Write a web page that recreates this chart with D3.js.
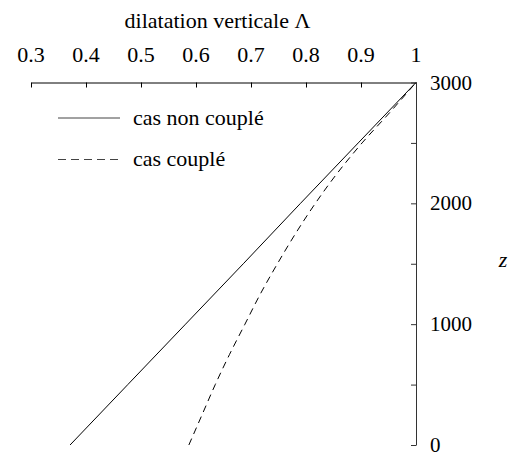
<html><head><meta charset="utf-8"><script src="https://cdn.jsdelivr.net/npm/d3@7"></script></head>
<body style="margin:0">
<svg id="s" width="508" height="456"></svg>
<script>
// Profondeur z (m) et dilatation verticale Λ pour les deux cas
const depthUncoupled = [0, 500, 1000, 1500, 2000, 2500, 3000];
const lambdaUncoupled = [0.371, 0.476, 0.581, 0.686, 0.790, 0.895, 1.0];

const depthCoupled = [0, 250, 500, 750, 1000, 1250, 1500, 1750, 2000, 2250, 2500, 2750, 3000];
const lambdaCoupled = [0.587, 0.611, 0.635, 0.661, 0.689, 0.717, 0.748, 0.781, 0.817, 0.857, 0.902, 0.952, 1.0];

const xTicks = [0.3, 0.4, 0.5, 0.6, 0.7, 0.8, 0.9, 1];
const yMajorTicks = [0, 1000, 2000, 3000];
const yAllTicks = [0, 500, 1000, 1500, 2000, 2500, 3000];

const seriesNames = ["cas non couplé", "cas couplé"];
const xTitle = "dilatation verticale Λ";
const yTitle = "z";

const fams = ["Liberation Serif", "Tinos", "Times New Roman"];
const famStack = fams.map(f => `"${f}"`).join(", ");

const svg = d3.select("#s");

function label(sel, size) {
  return sel.attr("font-size", size)
    .style("font-family", () => famStack)
    .attr("fill", "#000");
}

const x = d3.scaleLinear().domain([0.3, 1]).range([31, 416]);
const y = d3.scaleLinear().domain([0, 3000]).range([445, 82.5]);

// Axe horizontal en haut
const xAxis = d3.axisTop(x)
  .tickValues(xTicks)
  .tickSizeInner(-5)
  .tickSizeOuter(0)
  .tickFormat("");

const gx = svg.append("g").attr("transform", `translate(0,${y(3000)})`).call(xAxis);
gx.select(".domain").attr("stroke", "#000").attr("stroke-width", 1);
gx.selectAll(".tick line").attr("stroke", "#000").attr("stroke-width", 1);

// Axe vertical à droite
const yAxis = d3.axisRight(y)
  .tickValues(yAllTicks)
  .tickSizeInner(-5)
  .tickSizeOuter(0)
  .tickFormat("");

const gy = svg.append("g").attr("transform", `translate(${x(1)},0)`).call(yAxis);
gy.select(".domain").attr("stroke", "#333").attr("stroke-width", 1);
gy.selectAll(".tick line").attr("stroke", "#333").attr("stroke-width", 1);

// Courbes
const line = d3.line()
  .x(d => x(d[0]))
  .y(d => y(d[1]))
  .curve(d3.curveMonotoneY);

svg.append("path")
  .datum(d3.zip(lambdaUncoupled, depthUncoupled))
  .attr("d", line)
  .attr("fill", "none")
  .attr("stroke", "#000")
  .attr("stroke-width", 1);

svg.append("path")
  .datum(d3.zip(lambdaCoupled, depthCoupled))
  .attr("d", line)
  .attr("fill", "none")
  .attr("stroke", "#000")
  .attr("stroke-width", 1)
  .attr("stroke-dasharray", "7,5");

// Légende
const legendRows = [
  { name: seriesNames[0], dash: null, y: 118 },
  { name: seriesNames[1], dash: "8,5", y: 159.5 }
];
svg.append("g").selectAll("line")
  .data(legendRows).join("line")
  .attr("x1", 58).attr("x2", 120)
  .attr("y1", d => d.y).attr("y2", d => d.y)
  .attr("stroke", "#444")
  .attr("stroke-width", 1)
  .attr("stroke-dasharray", d => d.dash);

// Textes
svg.append("g").selectAll("text")
  .data(legendRows).join("text")
  .call(label, 22)
  .attr("x", 133)
  .attr("y", d => d.y + 6.5)
  .text(d => d.name);

svg.append("g").selectAll("text")
  .data(xTicks).join("text")
  .call(label, 22)
  .attr("x", d => x(d))
  .attr("y", 62)
  .attr("text-anchor", "middle")
  .text(d => d3.format("")(d));

svg.append("g").selectAll("text")
  .data(yMajorTicks).join("text")
  .call(label, 21)
  .attr("x", x(1) + 14)
  .attr("y", d => y(d) + 7)
  .text(d => d);

svg.append("text")
  .call(label, 22)
  .attr("x", 217.5)
  .attr("y", 28)
  .attr("text-anchor", "middle")
  .text(xTitle);

svg.append("text")
  .call(label, 22)
  .attr("x", 503)
  .attr("y", 267)
  .attr("text-anchor", "middle")
  .style("font-style", "italic")
  .text(yTitle);
</script></body></html>
